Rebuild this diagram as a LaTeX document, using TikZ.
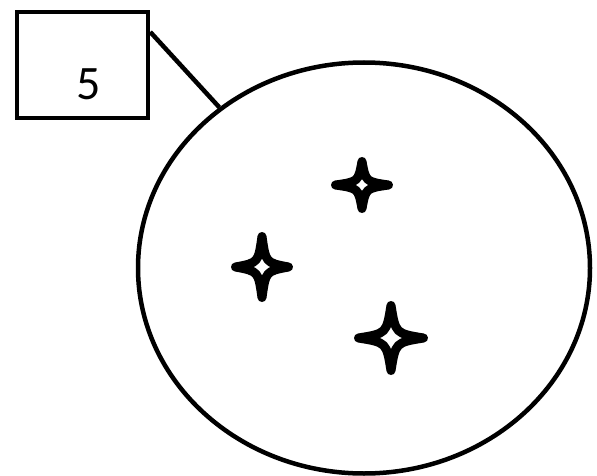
\documentclass[tikz,border=0pt]{standalone}
\usepackage{fontspec}
\setmainfont{Carlito}
\usetikzlibrary{shapes.geometric}

\begin{document}
\begin{tikzpicture}[x=1pt, y=-1pt,
    tag/.style={rectangle, draw, line width=4.5pt,
                minimum width=131pt, minimum height=106pt, inner sep=0pt,
                text height=70pt, text depth=0pt,
                font=\fontsize{48}{56}\selectfont},
    cell/.style={ellipse, draw, line width=4.5pt,
                 minimum width=452pt, minimum height=411pt, inner sep=0pt},
    lead/.style={line width=4.5pt},
    sparkle/.pic={
      \draw[line width=9pt, line join=round]
        (1,0) .. controls (0.14,0.14) .. (0,1)
              .. controls (-0.14,0.14) .. (-1,0)
              .. controls (-0.14,-0.14) .. (0,-1)
              .. controls (0.14,-0.14) .. cycle;
    }
  ]
  \useasboundingbox (0,0) rectangle (597,476);
  \node[tag] (box) at (82.5,65) {\hspace*{12pt}5};
  \node[cell] (cell) at (364,268) {};
  \draw[lead] (box.26) -- (cell.132);
  % sparkles inside the cell
  \pic[xscale=26.5, yscale=23.5] (s1) at (362,185) {sparkle};
  \pic[xscale=26.5, yscale=30.5] (s2) at (262,267) {sparkle};
  \pic[xscale=32.5, yscale=32.5] (s3) at (391,338) {sparkle};
\end{tikzpicture}
\end{document}
